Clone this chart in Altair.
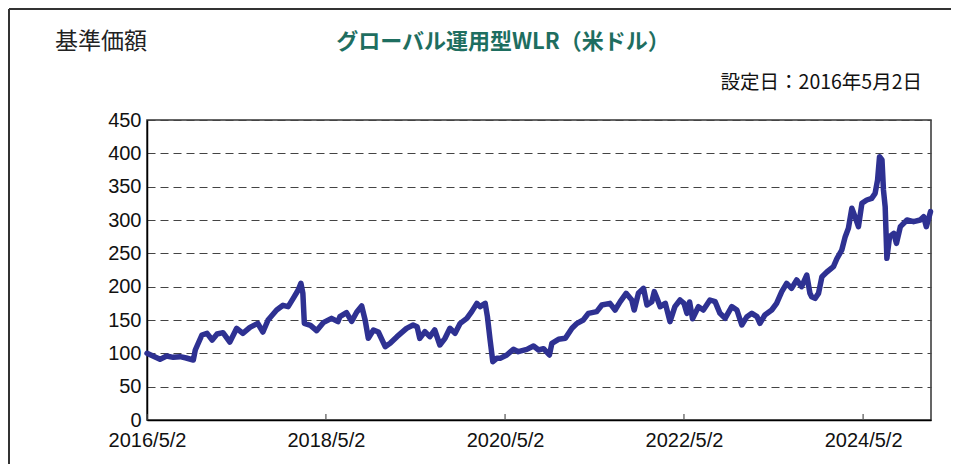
import altair as alt
import pandas as pd

# ---- data ----
dates = [
    "2016-05-02", "2016-06-24", "2016-07-21", "2016-08-17", "2016-09-14", "2016-10-09",
    "2016-11-07", "2016-11-15", "2016-12-12", "2017-01-02", "2017-01-23", "2017-02-12",
    "2017-03-08", "2017-04-05", "2017-05-03", "2017-05-28", "2017-06-26", "2017-07-28",
    "2017-08-18", "2017-09-08", "2017-10-13", "2017-11-08", "2017-11-29", "2017-12-19",
    "2018-01-09", "2018-01-20", "2018-01-28", "2018-02-03", "2018-02-28", "2018-03-25",
    "2018-04-21", "2018-05-25", "2018-06-20", "2018-06-28", "2018-07-25", "2018-08-15",
    "2018-09-05", "2018-09-25", "2018-10-09", "2018-10-22", "2018-11-12", "2018-12-02",
    "2018-12-30", "2019-01-19", "2019-02-16", "2019-03-27", "2019-04-23", "2019-05-09",
    "2019-05-20", "2019-06-10", "2019-06-30", "2019-07-20", "2019-08-10", "2019-08-31",
    "2019-09-20", "2019-10-11", "2019-11-01", "2019-11-28", "2019-12-18", "2020-01-08",
    "2020-01-21", "2020-02-11", "2020-02-20", "2020-03-02", "2020-03-13", "2020-03-29",
    "2020-04-12", "2020-05-09", "2020-06-05", "2020-06-25", "2020-07-30", "2020-08-26",
    "2020-09-16", "2020-10-06", "2020-10-30", "2020-11-09", "2020-12-06", "2021-01-03",
    "2021-01-30", "2021-02-20", "2021-03-17", "2021-04-07", "2021-05-11", "2021-06-01",
    "2021-07-04", "2021-07-25", "2021-08-15", "2021-09-08", "2021-10-01", "2021-10-11",
    "2021-10-28", "2021-11-18", "2021-12-02", "2021-12-22", "2022-01-01", "2022-01-12",
    "2022-01-25", "2022-02-15", "2022-03-06", "2022-03-26", "2022-04-16", "2022-05-02",
    "2022-05-14", "2022-05-25", "2022-06-06", "2022-06-30", "2022-07-20", "2022-08-16",
    "2022-09-06", "2022-09-26", "2022-10-17", "2022-11-13", "2022-12-04", "2022-12-24",
    "2023-01-14", "2023-02-03", "2023-02-24", "2023-03-08", "2023-03-28", "2023-04-25",
    "2023-05-15", "2023-06-05", "2023-06-25", "2023-07-15", "2023-08-05", "2023-08-25",
    "2023-09-15", "2023-09-28", "2023-10-05", "2023-10-19", "2023-11-02", "2023-11-16",
    "2023-12-06", "2024-01-02", "2024-01-16", "2024-02-05", "2024-02-19", "2024-03-03",
    "2024-03-17", "2024-03-30", "2024-04-13", "2024-04-27", "2024-05-17", "2024-06-06",
    "2024-06-20", "2024-06-30", "2024-07-08", "2024-07-18", "2024-07-24", "2024-07-31",
    "2024-08-07", "2024-08-18", "2024-09-04", "2024-09-15", "2024-10-01", "2024-10-28",
    "2024-11-24", "2024-12-21", "2025-01-04", "2025-01-15", "2025-02-01",
]
nav = [
    100, 91, 96, 94, 95, 93,
    90, 105, 127.5, 130, 120, 129,
    131, 117, 137.5, 130, 139, 145,
    132, 150, 165, 172, 170, 182,
    195, 205, 190, 145, 142, 134,
    146, 152.5, 147.5, 155, 161, 148,
    162, 171, 150, 122.5, 135, 132,
    110, 115, 125, 137.5, 142.5, 140,
    122.5, 132.5, 125, 135, 112.5, 122.5,
    137.5, 130, 145, 152.5, 162.5, 175,
    170, 175, 155, 120, 87.5, 92.5,
    92.5, 97.5, 106, 102.5, 106, 111,
    105, 107, 97.5, 115, 121, 122.5,
    137.5, 145, 150, 160, 162.5, 172.5,
    175, 165, 177.5, 190, 180, 165,
    190, 197.5, 172.5, 177.5, 192.5, 182.5,
    170, 175, 147.5, 170, 180, 175,
    160, 177, 152, 170, 165, 180,
    177.5, 160, 152.5, 170, 165, 142.5,
    155, 160, 155, 145, 157.5, 165,
    175, 192.5, 205, 197.5, 210, 200,
    217.5, 190, 185, 182.5, 190, 215,
    222, 230, 242, 255, 275, 287.5,
    317.5, 305, 290, 325, 330, 332.5,
    340, 360, 395, 390, 345, 320,
    242.5, 275, 280, 265, 290, 300,
    297.5, 300, 305, 290, 312.5,
]
tick_dates = ["2016-05-02", "2018-05-02", "2020-05-02", "2022-05-02", "2024-05-02"]
y_ticks = [0, 50, 100, 150, 200, 250, 300, 350, 400, 450]

title_left = "基準価額"
title_main = "グローバル運用型WLR（米ドル）"
title_right = "設定日：2016年5月2日"

W, H = 784, 300
FONT_JP = "Noto Sans CJK JP"
FONT_NUM = "Liberation Sans"

df = pd.DataFrame({"date": dates, "nav": nav})
ticks_df = pd.DataFrame({"date": tick_dates})


def dt(s):
    y, m, d = (int(v) for v in s.split("-"))
    return alt.DateTime(year=y, month=m, date=d, utc=True)


x_scale = alt.Scale(type="utc", domain=[dt("2016-05-02"), dt("2025-02-03")])
y_scale = alt.Scale(domain=[0, 450], nice=False, zero=True)

line = alt.Chart(df).mark_line(
    color="#2E3192", strokeWidth=5.5, strokeJoin="round", strokeCap="round"
).encode(
    x=alt.X(
        "date:T",
        scale=x_scale,
        title=None,
        axis=alt.Axis(
            values=[dt(s) for s in tick_dates],
            labelExpr="utcFormat(datum.value, '%Y/%-m/%-d')",
            grid=False,
            ticks=False,
            domainColor="#000000",
            domainWidth=1.5,
            labelFont=FONT_NUM,
            labelFontSize=20,
            labelColor="#111111",
            labelPadding=10,
            labelFlush=False,
            labelOverlap=False,
        ),
    ),
    y=alt.Y(
        "nav:Q",
        scale=y_scale,
        title=None,
        axis=alt.Axis(
            values=y_ticks,
            grid=True,
            gridDash=[8, 5],
            gridColor="#444444",
            gridWidth=1.2,
            ticks=False,
            domainColor="#000000",
            domainWidth=1.5,
            labelFont=FONT_NUM,
            labelFontSize=20,
            labelColor="#111111",
            labelPadding=6,
        ),
    ),
)

inner_ticks = alt.Chart(ticks_df).mark_rule(color="#555555", strokeWidth=1.2).encode(
    x=alt.X("date:T", scale=x_scale),
    y=alt.value(H),
    y2=alt.value(H - 6),
)

one = alt.Data(values=[{}])

t_left = alt.Chart(one).mark_text(
    text=title_left, font=FONT_JP, fontSize=23, color="#222222",
    align="left", baseline="middle",
).encode(x=alt.value(-92), y=alt.value(-78))

t_main = alt.Chart(one).mark_text(
    text=title_main, font=FONT_JP, fontSize=22, fontWeight="bold", color="#1E6E60",
    align="center", baseline="middle",
).encode(x=alt.value(356), y=alt.value(-78))

t_right = alt.Chart(one).mark_text(
    text=title_right, font=FONT_JP, fontSize=19.5, color="#111111",
    align="right", baseline="middle",
).encode(x=alt.value(775), y=alt.value(-37))

border_top = alt.Chart(one).mark_rule(color="#333333", strokeWidth=2).encode(
    x=alt.value(-138), x2=alt.value(830), y=alt.value(-111)
)
border_left = alt.Chart(one).mark_rule(color="#333333", strokeWidth=2).encode(
    x=alt.value(-138), y=alt.value(-111), y2=alt.value(360)
)

chart = alt.layer(
    line, inner_ticks, t_left, t_main, t_right, border_top, border_left
).properties(
    width=W,
    height=H,
    autosize=alt.AutoSizeParams(type="none"),
    padding={"left": 139, "top": 112, "right": 20, "bottom": 44},
    background="#ffffff",
).configure_view(
    stroke="#333333", strokeWidth=1.5
)

chart.save("out.html", embed_options={"renderer": "svg", "actions": False})
